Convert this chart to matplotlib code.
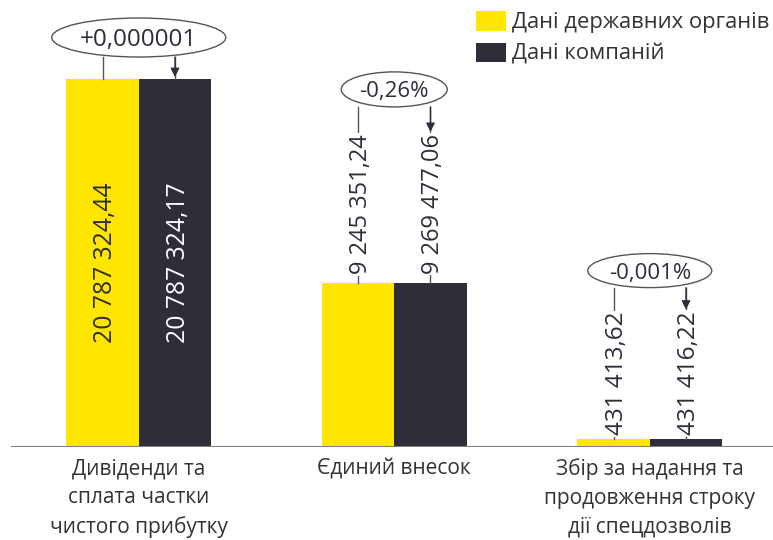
import matplotlib
matplotlib.use("Agg")
import matplotlib.pyplot as plt
from matplotlib.patches import Ellipse, Patch

# ---- data -------------------------------------------------------------
categories = ["Дивіденди та\nсплата частки\nчистого прибутку",
              "Єдиний внесок",
              "Збір за надання та\nпродовження строку\nдії спецдозволів"]
gov_values = [20787324.44, 9245351.24, 431413.62]
company_values = [20787324.17, 9269477.06, 431416.22]
gov_labels = ["20 787 324,44", "9 245 351,24", "431 413,62"]
company_labels = ["20 787 324,17", "9 269 477,06", "431 416,22"]
diff_labels = ["+0,000001", "-0,26%", "-0,001%"]
series_names = ["Дані державних органів", "Дані компаній"]

# ---- style ------------------------------------------------------------
YELLOW = "#FFE600"
DARK = "#2E2E38"
TEXT = "#333333"
LINE = "#555555"
NUM_FONT = ["Open Sans", "DejaVu Sans"]
LBL_FONT = ["Open Sans", "DejaVu Sans"]

labels_inside = [True, False, False]
label_gap_px = [0, 9, 4]
value_fs = [17.8, 17.0, 17.5]
diff_fs = [17.5, 16, 16]
ellipse_size_px = [(174, 39), (106, 35), (124, 34)]
ellipse_gap_px = [22, 27, 24]

W, H, DPI = 773, 540, 100
fig = plt.figure(figsize=(W / DPI, H / DPI), dpi=DPI)
base_px = 447
group_px = 255.5
bar_px = 72.5
ax = fig.add_axes([11 / W, (H - base_px) / H, (W - 11) / W, base_px / H])
ax.set_xlim(-0.5, -0.5 + (W - 11) / group_px)
ymax = max(gov_values) * base_px / 368
ax.set_ylim(0, ymax)
for s in ax.spines.values():
    s.set_visible(False)
ax.set_yticks([])

bw = bar_px / group_px
xs = list(range(len(categories)))
ax.bar([x - bw / 2 for x in xs], gov_values, width=bw, color=YELLOW, zorder=2)
ax.bar([x + bw / 2 for x in xs], company_values, width=bw, color=DARK, zorder=2)
ax.axhline(0, color="#808080", lw=2.2, zorder=3)

ax.set_xticks(xs)
ax.set_xticklabels(categories, fontsize=15, color=TEXT, family=LBL_FONT,
                   linespacing=1.5)
ax.tick_params(axis="x", length=0, pad=8)

# value labels
texts = []
for i, x in enumerate(xs):
    pair = []
    for dx, val, lab, col in ((-bw / 2, gov_values[i], gov_labels[i], DARK),
                              (bw / 2, company_values[i], company_labels[i], "white")):
        if labels_inside[i]:
            t = ax.text(x + dx, val / 2, lab, rotation=90, rotation_mode="anchor",
                        ha="center", va="center_baseline",
                        fontsize=value_fs[i], color=col, family=NUM_FONT, zorder=5)
        else:
            t = ax.annotate(lab, xy=(x + dx, val), xytext=(0, label_gap_px[i]),
                            textcoords="offset pixels", rotation=90,
                            rotation_mode="anchor", ha="left", va="center_baseline",
                            fontsize=value_fs[i], color=DARK, family=NUM_FONT,
                            zorder=5,
                            bbox=dict(boxstyle="square,pad=0.05", fc="white", ec="none"))
        pair.append(t)
    texts.append(pair)

fig.canvas.draw()
renderer = fig.canvas.get_renderer()
to_data = ax.transData.inverted()
px_per_y = ax.transData.transform((0, 1))[1] - ax.transData.transform((0, 0))[1]
px_per_x = ax.transData.transform((1, 0))[0] - ax.transData.transform((0, 0))[0]

for i, x in enumerate(xs):
    vals = (gov_values[i], company_values[i])
    if labels_inside[i]:
        tops = [ax.transData.transform((x, v))[1] for v in vals]
    else:
        tops = [t.get_window_extent(renderer).y1 for t in texts[i]]
    top_px = max(tops)
    ew, eh = ellipse_size_px[i]
    cy_px = top_px + ellipse_gap_px[i] + eh / 2
    cy = to_data.transform((0, cy_px))[1]
    ax.add_patch(Ellipse((x, cy), ew / px_per_x, eh / px_per_y, fc="white",
                         ec=LINE, lw=1.0, zorder=6))
    ax.text(x, cy, diff_labels[i], ha="center", va="center_baseline",
            fontsize=diff_fs[i], color=DARK, family=NUM_FONT, zorder=7)
    ebot = cy - eh / 2 / px_per_y
    # connector from ellipse to each bar
    for dx, v in ((-bw / 2, vals[0]), (bw / 2, vals[1])):
        ax.plot([x + dx, x + dx], [ebot, v], color=LINE, lw=1.0, zorder=4)
    if labels_inside[i]:
        arrow_end = vals[1]
    else:
        arrow_end = to_data.transform((0, tops[1]))[1]
    ax.annotate("", xy=(x + bw / 2, arrow_end + 2 / px_per_y), xytext=(x + bw / 2, ebot),
                arrowprops=dict(arrowstyle="-|>", color=DARK, lw=1.0,
                                mutation_scale=13, shrinkA=0, shrinkB=0),
                zorder=6)

handles = [Patch(facecolor=YELLOW), Patch(facecolor=DARK)]
fig.legend(handles, series_names, loc="upper left",
           bbox_to_anchor=(476 / W, 1 - 11 / H), frameon=False,
           prop={"family": LBL_FONT, "size": 15.8}, labelcolor=TEXT,
           handlelength=1.35, handleheight=1.0, handletextpad=0.28,
           labelspacing=0.42, borderpad=0, borderaxespad=0)

fig.savefig("out.png", dpi=DPI, facecolor="white")
